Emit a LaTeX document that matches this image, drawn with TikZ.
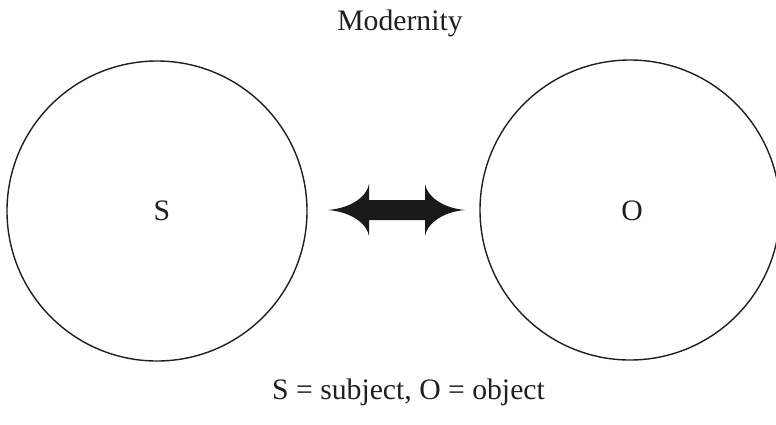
\documentclass[tikz,border=0pt]{standalone}
\usepackage{fontspec}
\setmainfont{Liberation Serif}
\begin{document}
\begin{tikzpicture}[x=1pt,y=-1pt,
  circ/.style={draw=black!88,line width=1.4pt,circle,minimum size=300pt,inner sep=0pt},
  lbl/.style={font=\fontsize{29.7}{34}\selectfont,text=black!88,inner sep=0pt,anchor=base}]
\useasboundingbox (0,0) rectangle (776,424);
\clip (0,0) rectangle (776,424);
\node[circ] (S) at (157,211) {};
\node[circ] (O) at (630,210) {};
\node[lbl] (st) at (162,220) {S};
\node[lbl] (ot) at (632,220) {O};
\node[lbl] (title) at (400,30) {Modernity};
\node[lbl] (legend) at (408.5,399) {S = subject, O = object};
% double arrow
\coordinate (L) at (328,210);
\coordinate (R) at (465,210);
\fill[black!90]
  (L) .. controls (352,208) and (367,196) .. (369,184)
  -- (369,200) -- (425,200) -- (425,184)
  .. controls (427,196) and (442,208) .. (R)
  .. controls (442,212) and (427,224) .. (425,236)
  -- (425,220) -- (369,220) -- (369,236)
  .. controls (367,224) and (352,212) .. (L) -- cycle;
\end{tikzpicture}
\end{document}
